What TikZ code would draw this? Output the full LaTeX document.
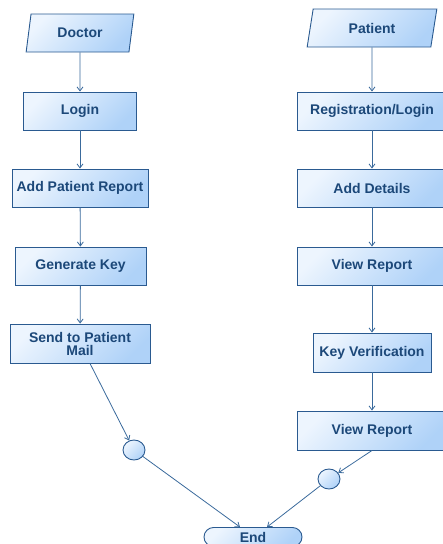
\documentclass[tikz,border=0pt]{standalone}
\usepackage{fontspec}
\setmainfont{Liberation Sans}
\usetikzlibrary{shapes.geometric,shapes.misc,arrows.meta}
\definecolor{bordc}{HTML}{2A5A90}
\definecolor{linec}{HTML}{3A6A9C}
\definecolor{txtc}{HTML}{1C4879}
\definecolor{lightc}{HTML}{EDF5FE}
\definecolor{darkc}{HTML}{AFD2F8}
\tikzset{
  base/.style={draw=bordc, line width=0.9pt, top color=lightc, bottom color=darkc, shading angle=45,
    text=txtc, font=\fontsize{14}{13}\selectfont\bfseries, inner sep=0pt, align=center},
  box/.style={base, rectangle, minimum height=38},
  para/.style={base, trapezium, trapezium left angle=77, trapezium right angle=103,
    trapezium stretches=true, minimum height=38},
  junc/.style={base, ellipse, minimum width=22, minimum height=20},
  term/.style={base, rounded rectangle, minimum width=98, minimum height=19},
  arr/.style={draw=linec, line width=0.8pt, -{Straight Barb[length=4pt,width=6pt]}}
}
\begin{document}
\begin{tikzpicture}[x=1pt,y=-1pt]
\useasboundingbox (0,0) rectangle (443,544);
% left column
\node[para, minimum width=108] (doc) at (80,33) {Doctor};
\node[box, minimum width=113] (login) at (80,111) {Login};
\node[box, minimum width=136] (apr) at (80,188) {Add Patient Report};
\node[box, minimum width=131] (gk) at (80.5,266) {Generate Key};
\node[box, minimum width=140, minimum height=39] (send) at (80,343.5) {Send to Patient\\Mail};
% right column
\node[para, minimum width=130] (pat) at (372,28) {Patient};
\node[box, minimum width=150] (reg) at (372,111) {Registration/Login};
\node[box, minimum width=150] (add) at (372,188) {Add Details};
\node[box, minimum width=150] (vr1) at (372,266) {View Report};
\node[box, minimum width=118, minimum height=39] (kv) at (372,352.5) {Key Verification};
\node[box, minimum width=150, minimum height=39] (vr2) at (372,430.5) {View Report};
% junctions and end
\node[junc] (c1) at (134,450) {};
\node[junc] (c2) at (329,479) {};
\node[term] (end) at (253,537) {End};
% connectors
\draw[arr] (doc) -- (login);
\draw[arr] (login) -- (apr);
\draw[arr] (apr) -- (gk);
\draw[arr] (gk) -- (send);
\draw[arr] ([xshift=10pt]send.south) -- (c1);
\draw[arr] (c1) -- ([xshift=-13pt]end.north);
\draw[arr] (pat) -- (reg);
\draw[arr] (reg) -- (add);
\draw[arr] (add) -- (vr1);
\draw[arr] (vr1) -- (kv);
\draw[arr] (kv) -- (vr2);
\draw[arr] (vr2.south) -- (c2);
\draw[arr] (c2) -- ([xshift=14pt]end.north);
\end{tikzpicture}
\end{document}
